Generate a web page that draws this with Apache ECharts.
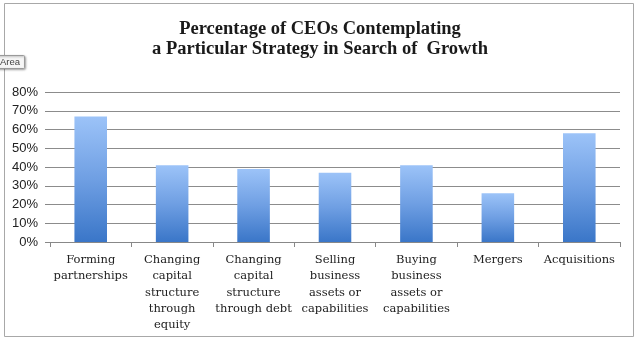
<!DOCTYPE html>
<html><head><meta charset="utf-8">
<script src="https://cdn.jsdelivr.net/npm/echarts@6/dist/echarts.min.js"></script>
<style>html,body{margin:0;padding:0;background:#fff}#c{width:640px;height:342px}</style>
</head><body><div id="c"></div>
<script>
const categories = ["Forming\npartnerships","Changing\ncapital\nstructure\nthrough\nequity","Changing\ncapital\nstructure\nthrough debt","Selling\nbusiness\nassets or\ncapabilities","Buying\nbusiness\nassets or\ncapabilities","Mergers","Acquisitions"];
const values = [67, 41, 39, 37, 41, 26, 58];
const yTicks = [0,10,20,30,40,50,60,70,80];
const titleText = "Percentage of CEOs Contemplating\na Particular Strategy in Search of  Growth";

const chart = echarts.init(document.getElementById('c'), null, {renderer:'canvas'});
chart.setOption({
  animation:false,
  backgroundColor:'#fff',
  title:{text:titleText,left:'center',top:14,textStyle:{fontFamily:'Liberation Serif',fontWeight:'bold',fontSize:18.5,color:'#1a1a1a',lineHeight:20}},
  graphic:[
    {type:'rect',shape:{x:4.5,y:3.5,width:629,height:333},style:{fill:'none',stroke:'#a8a8a8',lineWidth:1},z:-1},
    {type:'rect',shape:{x:-3.5,y:55.5,width:28,height:13,r:1},style:{fill:'#f6f6f6',stroke:'#9a9a9a',lineWidth:1,shadowBlur:2,shadowColor:'rgba(0,0,0,0.3)',shadowOffsetX:1,shadowOffsetY:1},z:10},
    {type:'text',left:0,top:57,style:{text:'Area',font:'9.5px Liberation Sans',fill:'#444'},z:11}
  ],
  grid:{left:50,right:20,top:92,bottom:100,containLabel:false},
  xAxis:{type:'category',data:categories,
    axisLine:{lineStyle:{color:'#888',width:1}},
    axisTick:{show:true,length:5,lineStyle:{color:'#888'},alignWithLabel:false},
    axisLabel:{interval:0,margin:10,fontFamily:'DejaVu Serif',fontSize:11.5,color:'#222',lineHeight:16.3}
  },
  yAxis:{type:'value',min:0,max:80,interval:10,
    axisLine:{show:false},
    axisTick:{show:true,length:5,lineStyle:{color:'#888'}},
    splitLine:{lineStyle:{color:'#8c8c8c',width:1}},
    axisLabel:{formatter:function(v){return yTicks.indexOf(v)>=0? v+'%':'';},margin:12,fontFamily:'Liberation Sans',fontSize:13,color:'#222'}
  },
  series:[{type:'bar',data:values,barWidth:'40%',
    itemStyle:{color:new echarts.graphic.LinearGradient(0,0,0,1,[{offset:0,color:'#9cc3f8'},{offset:0.5,color:'#6f9fe3'},{offset:1,color:'#3a76c8'}])}
  }]
});
</script></body></html>
